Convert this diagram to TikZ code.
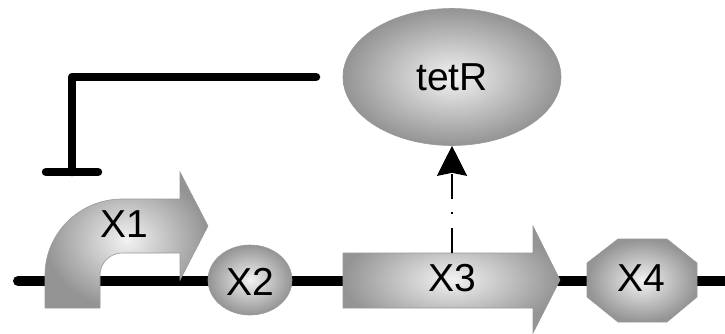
\documentclass[tikz,border=0pt]{standalone}
\usepackage{fontspec}
\setmainfont{Liberation Sans}
\usetikzlibrary{shapes.geometric,arrows.meta}
\tikzset{
  part/.style={draw=black!40, line width=0.6pt, shading=radial,
    inner color=black!5, outer color=black!42},
  lbl/.style={font=\fontsize{39}{41}\selectfont, inner sep=0pt},
  dna/.style={line width=10pt, line cap=round},
  repress/.style={line width=8.5pt, line cap=round, line join=round},
  express/.style={line width=2.5pt, dash pattern=on 25pt off 14pt on 2pt off 13pt,
    -{Stealth[length=30pt, width=30pt, inset=3pt]}}
}
\begin{document}
\begin{tikzpicture}[x=1pt, y=-1pt]
\useasboundingbox (0,0) rectangle (725,333);

% DNA backbone
\draw[dna] (18,281) -- (735,281);

% X1: bent promoter arrow
\path[part] (45,308) -- (45,275) .. controls (45,233) and (80,199) .. (122,199)
  -- (180,199) -- (180,172) -- (208,226) -- (180,280) -- (180,253) -- (122,253)
  .. controls (110,253) and (100,263) .. (100,275) -- (100,308) -- cycle;
\node[lbl] (x1) at (124,224) {X1};

% X2: ellipse
\node[part, ellipse, minimum width=84pt, minimum height=70pt, inner sep=0pt]
  (x2) at (250,280) {};
\node[lbl] at (250,282) {X2};

% X3: gene arrow
\path[part] (343,253) -- (533,253) -- (533,226) -- (560,280) -- (533,333)
  -- (533,308) -- (343,308) -- cycle;
\node[lbl] (x3) at (452,278) {X3};
\coordinate (x3top) at (452,253);

% X4: octagon terminator
\path[part] (587,263) -- (618,239) -- (667,239) -- (697,263) -- (697,297)
  -- (667,322) -- (618,322) -- (587,297) -- cycle;
\node[lbl] (x4) at (641,278) {X4};

% tetR protein
\node[part, ellipse, minimum width=218pt, minimum height=137pt, inner sep=0pt]
  (tetR) at (452,77) {};
\node[lbl] at (452,77) {tetR};

% expression of tetR from X3
\draw[express] (x3top) -- (tetR.south);

% repression by tetR
\coordinate (rep) at (316,77);
\coordinate (corner) at (72,77);
\coordinate (bar) at (72,172);
\draw[repress] (rep) -- (corner) -- (bar) (46,172) -- (98,172);
\end{tikzpicture}
\end{document}
